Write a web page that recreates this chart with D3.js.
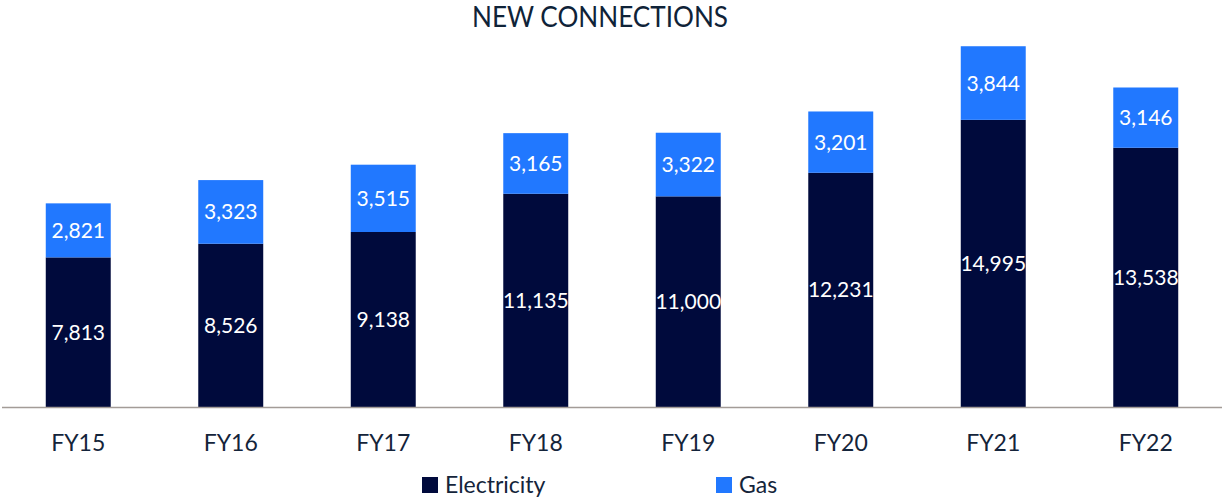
<!DOCTYPE html>
<html>
<head>
<meta charset="utf-8">
<script src="https://cdn.jsdelivr.net/npm/d3@7"></script>
<style>
  body { margin: 0; background: #fff; }
  text { font-family: Lato, "Open Sans", sans-serif; }
</style>
</head>
<body>
<div id="chart"></div>
<script>
// Chart data
const years = ["FY15", "FY16", "FY17", "FY18", "FY19", "FY20", "FY21", "FY22"];
const electricity = [7813, 8526, 9138, 11135, 11000, 12231, 14995, 13538];
const gas = [2821, 3323, 3515, 3165, 3322, 3201, 3844, 3146];
const seriesNames = ["Electricity", "Gas"];
const seriesColors = ["#000a3c", "#2178ff"];

const width = 1222;
const height = 501;
const baseline = 407;

const svg = d3
  .select("#chart")
  .append("svg")
  .attr("width", width)
  .attr("height", height);

const x = d3
  .scaleBand()
  .domain(years)
  .range([2, 1222])
  .paddingInner(0.574)
  .paddingOuter(0.287);

const y = d3.scaleLinear().domain([0, 20000]).range([baseline, 24]);

// Stack the two series
const rows = years.map((yr, i) => ({
  year: yr,
  Electricity: electricity[i],
  Gas: gas[i],
}));
const stacked = d3.stack().keys(seriesNames)(rows);

const fmt = d3.format(",");

const layers = svg
  .selectAll(".layer")
  .data(stacked)
  .enter()
  .append("g")
  .attr("class", "layer")
  .attr("fill", (d, i) => seriesColors[i]);

layers
  .selectAll("rect")
  .data((d) => d)
  .enter()
  .append("rect")
  .attr("x", (d) => x(d.data.year))
  .attr("width", x.bandwidth())
  .attr("y", (d) => y(d[1]))
  .attr("height", (d) => y(d[0]) - y(d[1]));

// Segment value labels
layers
  .selectAll("text")
  .data((d) => d.map((v) => ({ v, key: d.key })))
  .enter()
  .append("text")
  .attr("x", (d) => x(d.v.data.year) + x.bandwidth() / 2)
  .attr("y", (d) => (y(d.v[0]) + y(d.v[1])) / 2)
  .attr("dy", "0.36em")
  .attr("text-anchor", "middle")
  .attr("fill", "#fff")
  .attr("font-size", 21)
  .text((d) => fmt(d.v.data[d.key]));

// Baseline
svg
  .append("line")
  .attr("x1", 2)
  .attr("x2", 1222)
  .attr("y1", baseline + 0.5)
  .attr("y2", baseline + 0.5)
  .attr("stroke", "#a39c97")
  .attr("stroke-width", 1.5);

// Category axis labels
svg
  .append("g")
  .selectAll("text")
  .data(years)
  .enter()
  .append("text")
  .attr("x", (d) => x(d) + x.bandwidth() / 2)
  .attr("y", 451)
  .attr("text-anchor", "middle")
  .attr("fill", "#14243a")
  .attr("font-size", 23)
  .text((d) => d);

// Title
svg
  .append("text")
  .attr("x", 472)
  .attr("y", 27)
  .attr("fill", "#0f2338")
  .attr("font-size", 28)
  .attr("textLength", 256)
  .attr("lengthAdjust", "spacingAndGlyphs")
  .text("NEW CONNECTIONS");

// Legend
const legendX = [422, 716];
const legend = svg
  .selectAll(".legend")
  .data(seriesNames)
  .enter()
  .append("g")
  .attr("class", "legend")
  .attr("transform", (d, i) => `translate(${legendX[i]},477)`);

legend
  .append("rect")
  .attr("width", 16)
  .attr("height", 16)
  .attr("fill", (d, i) => seriesColors[i]);

legend
  .append("text")
  .attr("x", 23)
  .attr("y", 16)
  .attr("fill", "#14243a")
  .attr("font-size", 23)
  .text((d) => d);
</script>
</body>
</html>
